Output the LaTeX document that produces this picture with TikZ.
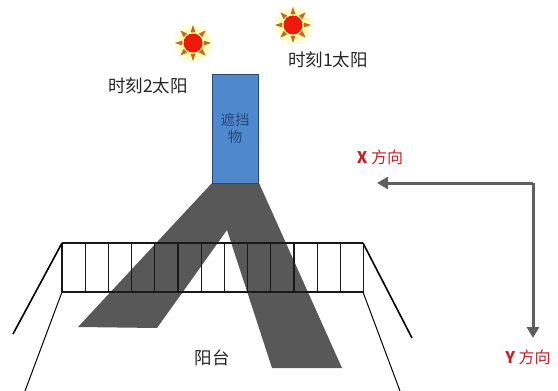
\documentclass[tikz,border=0pt]{standalone}
\usepackage{fontspec}
\setmainfont{Noto Sans CJK SC}
\usepackage{xcolor}
\usetikzlibrary{arrows.meta,positioning}

\definecolor{shadowgray}{RGB}{88,88,88}
\definecolor{arrowgray}{RGB}{95,95,95}
\definecolor{blockerblue}{RGB}{78,137,206}
\definecolor{blockerline}{RGB}{40,72,120}
\definecolor{sunred}{RGB}{238,24,12}
\definecolor{raycolor}{RGB}{196,104,40}
\definecolor{dirred}{RGB}{200,30,40}

\begin{document}
\begin{tikzpicture}[
    x=1pt,
    y=-1pt,
    lbl/.style={
        font=\fontsize{17.5}{20}\selectfont,
        text=black!85,
        inner sep=0pt
    },
    dirlbl/.style={
        font=\fontsize{16}{18}\selectfont,
        text=dirred,
        inner sep=0pt
    },
    blocker/.style={
        draw=blockerline,
        fill=blockerblue,
        line width=1pt,
        minimum width=46pt,
        minimum height=109pt,
        inner sep=0pt,
        align=center,
        font=\fontsize{14.5}{17}\selectfont,
        text=blockerline
    },
    rail/.style={line width=1.3pt, black!90},
    axis/.style={
        draw=arrowgray,
        line width=3pt,
        -{Triangle[length=11pt,width=12pt]}
    }
]
\useasboundingbox (0,0) rectangle (558,391);

% suns at the two moments
\foreach \nm/\sx/\sy in {sun1/293/25, sun2/193/43}{
  \coordinate (\nm) at (\sx,\sy);
  \begin{scope}[shift={(\nm)}]
    \shade[inner color=yellow!75, outer color=white] (0,0) circle (21);
    \foreach \a in {0,45,...,315}
      \fill[raycolor] (\a:18) -- (\a+13:11) -- (\a-13:11) -- cycle;
    \fill[sunred] (0,0) circle (9.5);
  \end{scope}
}
\node[lbl] (t1label) at (328,60) {时刻1太阳};
\node[lbl] (t2label) at (148,86) {时刻2太阳};

% shadow cast by the blocker
\fill[shadowgray] (212,183) -- (259,183) -- (342,368) -- (272,368)
    -- (227,230) -- (157,328) -- (78,327) -- cycle;

% the blocker
\node[blocker] (blocker) at (235,128.5) {遮挡\\物};

% balcony railing
\draw[rail] (62,243) -- (363,243);
\draw[rail] (62,292) -- (363,292);
\foreach \i in {0,...,13}
  \draw[rail] (62+23.2*\i,243) -- (62+23.2*\i,292);
\draw[line width=1.6pt] (62,243) -- (13,334);
\draw[line width=1.6pt] (363,243) -- (412,338);
\draw[line width=1pt] (62,292) -- (25,391);
\draw[line width=1pt] (363,292) -- (400,391);
\node[lbl] (balcony) at (212,358) {阳台};

% direction arrows
\coordinate (corner) at (533,183);
\coordinate (xend) at (377,183);
\coordinate (yend) at (533,338);
\draw[axis] (corner) -- (xend);
\draw[axis] (corner) -- (yend);
\node[dirlbl] (xlabel) at (380,157) {{\bfseries X} 方向};
\node[dirlbl] (ylabel) at (528,357) {{\bfseries Y} 方向};

\end{tikzpicture}
\end{document}
